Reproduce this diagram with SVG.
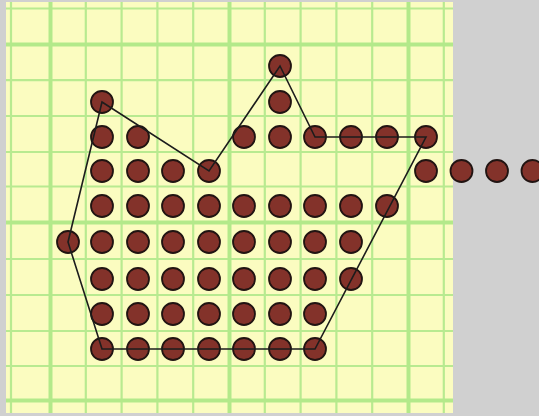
<svg xmlns="http://www.w3.org/2000/svg" width="539" height="416" viewBox="0 0 539 416">
<style>
.thin{stroke:#b8ea90;stroke-width:2.2;fill:none}
.thick{stroke:#b3e98a;stroke-width:4;fill:none}
.dot{fill:#83322a;stroke:#211412;stroke-width:1.8}
.edge{fill:none;stroke:#1c1c1c;stroke-width:1.6;stroke-linejoin:miter}
</style>
<rect x="0" y="0" width="539" height="416" fill="#d0d0d0"/>
<g id="paper">
<rect x="6" y="2" width="447" height="411" fill="#fbfcc0"/>
<g class="thin">
<line x1="11" y1="2" x2="11" y2="413"/>
<line x1="85.8" y1="2" x2="85.8" y2="413"/>
<line x1="121.6" y1="2" x2="121.6" y2="413"/>
<line x1="157.4" y1="2" x2="157.4" y2="413"/>
<line x1="193.2" y1="2" x2="193.2" y2="413"/>
<line x1="264.8" y1="2" x2="264.8" y2="413"/>
<line x1="300.6" y1="2" x2="300.6" y2="413"/>
<line x1="336.4" y1="2" x2="336.4" y2="413"/>
<line x1="372.2" y1="2" x2="372.2" y2="413"/>
<line x1="443.8" y1="2" x2="443.8" y2="413"/>
<line x1="6" y1="8.5" x2="453" y2="8.5"/>
<line x1="6" y1="80.1" x2="453" y2="80.1"/>
<line x1="6" y1="116" x2="453" y2="116"/>
<line x1="6" y1="152" x2="453" y2="152"/>
<line x1="6" y1="186.5" x2="453" y2="186.5"/>
<line x1="6" y1="259" x2="453" y2="259"/>
<line x1="6" y1="295" x2="453" y2="295"/>
<line x1="6" y1="331" x2="453" y2="331"/>
<line x1="6" y1="366" x2="453" y2="366"/>
</g>
<g class="thick">
<line x1="50.5" y1="2" x2="50.5" y2="413"/>
<line x1="229.5" y1="2" x2="229.5" y2="413"/>
<line x1="408.5" y1="2" x2="408.5" y2="413"/>
<line x1="6" y1="44.5" x2="453" y2="44.5"/>
<line x1="6" y1="222.5" x2="453" y2="222.5"/>
<line x1="6" y1="400.5" x2="453" y2="400.5"/>
</g>
</g>
<g id="dots" class="dot">
<circle cx="280" cy="66" r="11"/>
<circle cx="102" cy="102" r="11"/><circle cx="280" cy="102" r="11"/>
<circle cx="102" cy="137" r="11"/><circle cx="138" cy="137" r="11"/><circle cx="244" cy="137" r="11"/><circle cx="280" cy="137" r="11"/><circle cx="315" cy="137" r="11"/><circle cx="351" cy="137" r="11"/><circle cx="387" cy="137" r="11"/><circle cx="426" cy="137" r="11"/>
<circle cx="102" cy="171" r="11"/><circle cx="138" cy="171" r="11"/><circle cx="173" cy="171" r="11"/><circle cx="209" cy="171" r="11"/><circle cx="426" cy="171" r="11"/><circle cx="461.5" cy="171" r="11"/><circle cx="497" cy="171" r="11"/><circle cx="532.5" cy="171" r="11"/>
<circle cx="102" cy="206" r="11"/><circle cx="138" cy="206" r="11"/><circle cx="173" cy="206" r="11"/><circle cx="209" cy="206" r="11"/><circle cx="244" cy="206" r="11"/><circle cx="280" cy="206" r="11"/><circle cx="315" cy="206" r="11"/><circle cx="351" cy="206" r="11"/><circle cx="387" cy="206" r="11"/>
<circle cx="68" cy="242" r="11"/><circle cx="102" cy="242" r="11"/><circle cx="138" cy="242" r="11"/><circle cx="173" cy="242" r="11"/><circle cx="209" cy="242" r="11"/><circle cx="244" cy="242" r="11"/><circle cx="280" cy="242" r="11"/><circle cx="315" cy="242" r="11"/><circle cx="351" cy="242" r="11"/>
<circle cx="102" cy="279" r="11"/><circle cx="138" cy="279" r="11"/><circle cx="173" cy="279" r="11"/><circle cx="209" cy="279" r="11"/><circle cx="244" cy="279" r="11"/><circle cx="280" cy="279" r="11"/><circle cx="315" cy="279" r="11"/><circle cx="351" cy="279" r="11"/>
<circle cx="102" cy="314" r="11"/><circle cx="138" cy="314" r="11"/><circle cx="173" cy="314" r="11"/><circle cx="209" cy="314" r="11"/><circle cx="244" cy="314" r="11"/><circle cx="280" cy="314" r="11"/><circle cx="315" cy="314" r="11"/>
<circle cx="102" cy="349" r="11"/><circle cx="138" cy="349" r="11"/><circle cx="173" cy="349" r="11"/><circle cx="209" cy="349" r="11"/><circle cx="244" cy="349" r="11"/><circle cx="280" cy="349" r="11"/><circle cx="315" cy="349" r="11"/>
</g>
<g id="connectors">
<polygon class="edge" points="102,102 209,171 280,66 315,137 426,137 315,349 102,349 68,242"/>
</g>
</svg>
